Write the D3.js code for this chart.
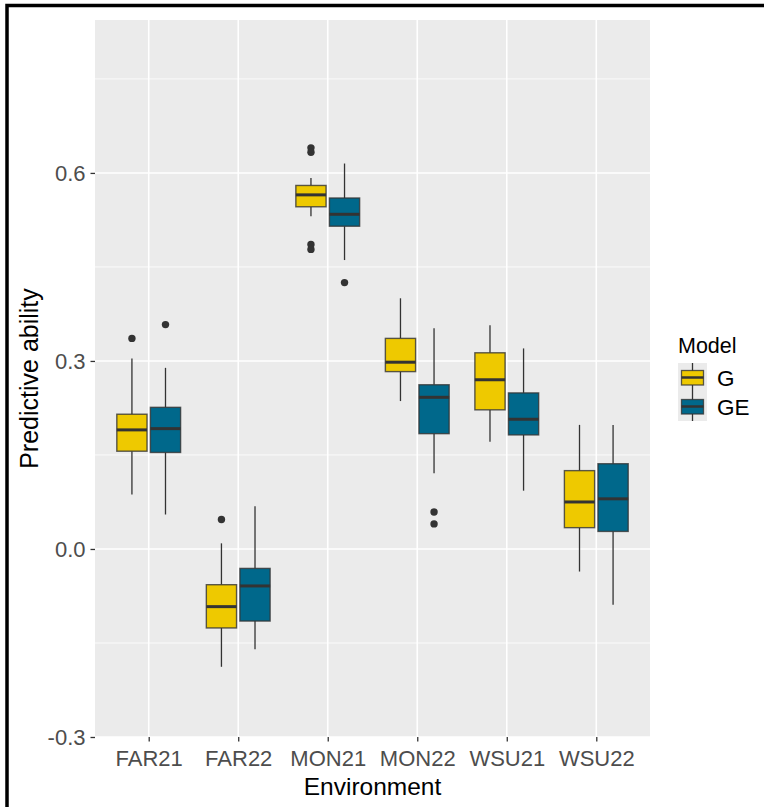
<!DOCTYPE html>
<html>
<head>
<meta charset="utf-8">
<script src="https://cdn.jsdelivr.net/npm/d3@7"></script>
<style>
  html, body { margin: 0; padding: 0; background: #ffffff; }
  svg { display: block; }
  text { font-family: Arial, "Liberation Sans", sans-serif; }
</style>
</head>
<body>
<svg id="chart" width="764" height="807"></svg>
<script>
// Environments on the x axis and the two prediction models
const environments = ["FAR21", "FAR22", "MON21", "MON22", "WSU21", "WSU22"];
const models = ["G", "GE"];
const modelColors = ["#EEC900", "#00688B"];

// Box statistics per environment, model G
const gLower  = [0.087, -0.188, 0.531, 0.236, 0.171, -0.036];
const gQ1     = [0.156, -0.126, 0.546, 0.283, 0.222, 0.034];
const gMedian = [0.190, -0.092, 0.565, 0.298, 0.270, 0.075];
const gQ3     = [0.215, -0.057, 0.580, 0.336, 0.313, 0.125];
const gUpper  = [0.304, 0.009, 0.592, 0.400, 0.357, 0.198];
const gOutliers = [[0.336], [0.047], [0.640, 0.633, 0.486, 0.478], [], [], []];

// Box statistics per environment, model GE
const geLower  = [0.055, -0.160, 0.461, 0.121, 0.093, -0.089];
const geQ1     = [0.154, -0.115, 0.515, 0.184, 0.182, 0.028];
const geMedian = [0.192, -0.059, 0.534, 0.242, 0.207, 0.080];
const geQ3     = [0.226, -0.031, 0.560, 0.262, 0.249, 0.136];
const geUpper  = [0.289, 0.068, 0.615, 0.352, 0.320, 0.198];
const geOutliers = [[0.358], [], [0.425], [0.059, 0.040], [], []];

const yTicks = [-0.3, 0.0, 0.3, 0.6];
const yTickLabels = ["-0.3", "0.0", "0.3", "0.6"];
const yMinor = [-0.15, 0.15, 0.45, 0.75];

const svg = d3.select("#chart");
const W = 764, H = 807;
const panel = { left: 95, right: 650, top: 20, bottom: 737 };

// Frame around the figure
svg.append("path")
  .attr("d", `M7,${H} V5.5 H${W}`)
  .attr("fill", "none").attr("stroke", "#000").attr("stroke-width", 3.5);

const x = d3.scalePoint().domain(environments)
  .range([panel.left, panel.right]).padding(0.6);
const step = x.step();
const dodge = d3.scaleBand().domain(models)
  .range([-0.375 * step, 0.375 * step])
  .paddingInner(0.1).paddingOuter(0.05);
const y = d3.scaleLinear().domain([-0.3, 0.844])
  .range([panel.bottom, panel.top]);

// Panel background and grid
svg.append("rect")
  .attr("x", panel.left).attr("y", panel.top)
  .attr("width", panel.right - panel.left).attr("height", panel.bottom - panel.top)
  .attr("fill", "#EBEBEB");

const grid = svg.append("g");
grid.selectAll("line.minor").data(yMinor).join("line")
  .attr("x1", panel.left).attr("x2", panel.right)
  .attr("y1", d => y(d)).attr("y2", d => y(d))
  .attr("stroke", "#fff").attr("stroke-width", 0.8);
grid.selectAll("line.major").data(yTicks).join("line")
  .attr("x1", panel.left).attr("x2", panel.right)
  .attr("y1", d => y(d)).attr("y2", d => y(d))
  .attr("stroke", "#fff").attr("stroke-width", 1.6);
grid.selectAll("line.vmajor").data(environments).join("line")
  .attr("x1", d => x(d)).attr("x2", d => x(d))
  .attr("y1", panel.top).attr("y2", panel.bottom)
  .attr("stroke", "#fff").attr("stroke-width", 1.6);

// Assemble box records
const boxes = [];
environments.forEach((env, i) => {
  boxes.push({ env, model: "G", color: modelColors[0],
    lo: gLower[i], q1: gQ1[i], med: gMedian[i], q3: gQ3[i], hi: gUpper[i], out: gOutliers[i] });
  boxes.push({ env, model: "GE", color: modelColors[1],
    lo: geLower[i], q1: geQ1[i], med: geMedian[i], q3: geQ3[i], hi: geUpper[i], out: geOutliers[i] });
});

const bw = dodge.bandwidth();
const cx = d => x(d.env) + dodge(d.model) + bw / 2;

const g = svg.append("g");
const bg = g.selectAll("g.box").data(boxes).join("g");
bg.append("line")
  .attr("x1", cx).attr("x2", cx)
  .attr("y1", d => y(d.hi)).attr("y2", d => y(d.q3))
  .attr("stroke", "#333").attr("stroke-width", 1.3);
bg.append("line")
  .attr("x1", cx).attr("x2", cx)
  .attr("y1", d => y(d.q1)).attr("y2", d => y(d.lo))
  .attr("stroke", "#333").attr("stroke-width", 1.3);
bg.append("rect")
  .attr("x", d => cx(d) - bw / 2).attr("width", bw)
  .attr("y", d => y(d.q3)).attr("height", d => y(d.q1) - y(d.q3))
  .attr("fill", d => d.color)
  .attr("stroke", "#333").attr("stroke-opacity", 0.8).attr("stroke-width", 1.4);
bg.append("line")
  .attr("x1", d => cx(d) - bw / 2).attr("x2", d => cx(d) + bw / 2)
  .attr("y1", d => y(d.med)).attr("y2", d => y(d.med))
  .attr("stroke", "#333").attr("stroke-width", 3);
bg.selectAll("circle").data(d => d.out.map(v => ({ v, d }))).join("circle")
  .attr("cx", p => cx(p.d)).attr("cy", p => y(p.v)).attr("r", 3.7)
  .attr("fill", "#333");

// Axes
const xAxis = svg.append("g")
  .attr("transform", `translate(0,${panel.bottom})`)
  .call(d3.axisBottom(x).tickSize(4.5).tickPadding(4));
const yAxis = svg.append("g")
  .attr("transform", `translate(${panel.left},0)`)
  .call(d3.axisLeft(y).tickValues(yTicks)
    .tickFormat((d, i) => yTickLabels[i]).tickSize(4.5).tickPadding(5));
[xAxis, yAxis].forEach(a => {
  a.select(".domain").remove();
  a.selectAll(".tick line").attr("stroke", "#333").attr("stroke-width", 1.3);
  a.selectAll(".tick text").attr("fill", "#4D4D4D").attr("font-size", 22)
    .attr("font-family", "Arial, 'Liberation Sans', sans-serif");
});
xAxis.selectAll(".tick text").attr("dy", null).attr("y", 29);
yAxis.selectAll(".tick text").attr("dy", "0.36em");

// Axis titles
svg.append("text")
  .attr("x", (panel.left + panel.right) / 2).attr("y", 795)
  .attr("text-anchor", "middle").attr("font-size", 24.5).attr("fill", "#000")
  .text("Environment");
svg.append("text")
  .attr("transform", `translate(38,${(panel.top + panel.bottom) / 2}) rotate(-90)`)
  .attr("text-anchor", "middle").attr("font-size", 25).attr("fill", "#000")
  .text("Predictive ability");

// Legend
const leg = svg.append("g").attr("transform", "translate(678,0)");
leg.append("text").attr("x", 0).attr("y", 353)
  .attr("font-size", 21.5).attr("fill", "#000").text("Model");
const keyH = 29, keyW = 29, key0 = 363;
models.forEach((m, i) => {
  const ky = key0 + i * keyH;
  const kg = leg.append("g").attr("transform", `translate(0,${ky})`);
  kg.append("rect").attr("width", keyW).attr("height", keyH).attr("fill", "#EBEBEB");
  kg.append("line").attr("x1", keyW / 2).attr("x2", keyW / 2)
    .attr("y1", 0).attr("y2", keyH).attr("stroke", "#333").attr("stroke-width", 1.3);
  kg.append("rect").attr("x", 3.5).attr("y", 7.5).attr("width", keyW - 7).attr("height", keyH - 14.5)
    .attr("fill", modelColors[i]).attr("stroke", "#333").attr("stroke-opacity", 0.8).attr("stroke-width", 1.3);
  kg.append("line").attr("x1", 3.5).attr("x2", keyW - 3.5)
    .attr("y1", keyH / 2).attr("y2", keyH / 2).attr("stroke", "#333").attr("stroke-width", 2.5);
  leg.append("text").attr("x", 39).attr("y", ky + keyH / 2).attr("dy", "0.36em")
    .attr("font-size", 22.5).attr("fill", "#000").text(m);
});
</script>
</body>
</html>
